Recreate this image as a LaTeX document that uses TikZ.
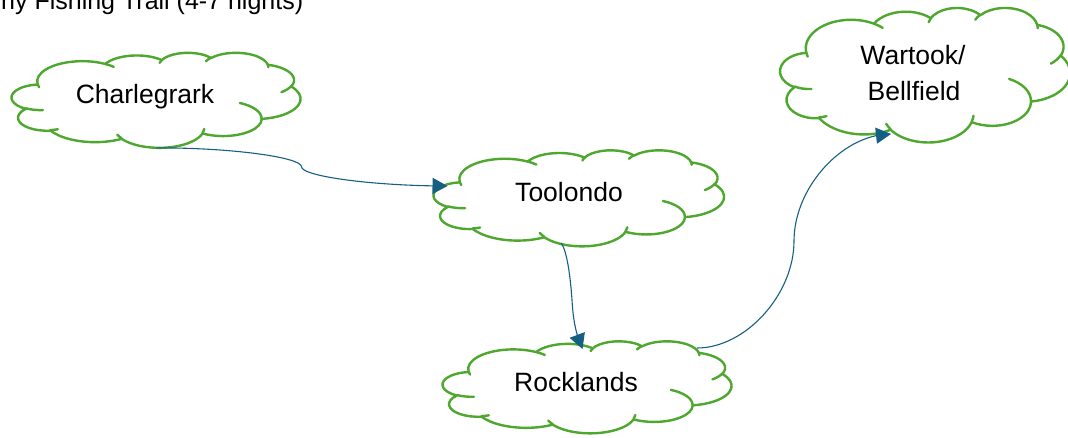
\documentclass[tikz,border=0pt]{standalone}
\usepackage{fontspec}
\setmainfont{Liberation Sans}
\usetikzlibrary{arrows.meta,bending,calc}
\definecolor{cloudgreen}{HTML}{4EA72E}
\definecolor{connblue}{HTML}{156082}
\tikzset{
  ooarc/.style n args={4}{insert path={arc[x radius=#1, y radius=#2,
      start angle={atan2((#1)*sin(#3),(#2)*cos(#3))},
      delta angle={mod(atan2((#1)*sin((#3)+(#4)),(#2)*cos((#3)+(#4)))-atan2((#1)*sin(#3),(#2)*cos(#3))+720,360)}]}},
  cloudline/.style={draw=cloudgreen, line width=2.4pt, line join=round, line cap=round},
  cloudbox/.style={rectangle, draw=none, inner sep=0pt, anchor=north west},
  lbl/.style={font=\fontsize{26.5}{37}\selectfont, inner sep=0pt, anchor=base, text=black},
  titletext/.style={font=\fontsize{25}{30}\selectfont, inner sep=0pt, anchor=base west, text=black},
  conn/.style={draw=connblue, line width=1.1pt, -{Triangle[length=15pt,width=16pt,flex=1]}},
  connstraight/.style={draw=connblue, line width=1.1pt, -{Triangle[length=15pt,width=16pt]}},
}
\newcommand\officecloud[5]{%
  \node[cloudbox, minimum width=#4pt, minimum height=#5pt] (#1) at (#2,#3) {};
  \pgfmathsetmacro\ocw{#4/432}\pgfmathsetmacro\och{#5/432}%
  \begin{scope}[shift={(#1.north west)}, x=\ocw pt, y=-\och pt]
    \path[cloudline, fill=white] (39.00,143.70)
      [ooarc={67.53}{91.90}{-190.48748}{123.78053}]
      [ooarc={53.33}{72.67}{-144.10238}{89.94523}]
      [ooarc={43.65}{59.45}{-145.80792}{99.72302}]
      [ooarc={48.57}{65.95}{-130.98607}{117.24173}]
      [ooarc={53.33}{72.73}{-78.70888}{109.02692}]
      [ooarc={67.75}{92.20}{-46.26725}{130.269}]
      [ooarc={57.85}{78.67}{0.62502}{114.03333}]
      [ooarc={67.52}{92.15}{22.4516}{115.17255}]
      [ooarc={77.20}{105.43}{66.24263}{75.22697}]
      [ooarc={43.60}{59.18}{-274.94208}{146.7394}]
      [ooarc={43.45}{59.45}{-246.8285}{152.51725}] -- cycle;
    \path[cloudline]
      (46.93,261.77) [ooarc={43.45}{59.45}{86.742}{26.4295}]
      (69.28,348.99) [ooarc={43.60}{59.18}{73.6105}{11.4475}]
      (164.78,390.90) [ooarc={67.52}{92.15}{137.6242}{14.0811}]
      (288.27,347.51) [ooarc={67.52}{92.15}{6.4533}{15.9984}]
      (341.29,229.54) [ooarc={57.85}{78.67}{-70.2924}{70.9174}]
      (417.98,153.54) [ooarc={53.33}{72.73}{30.318}{27.7515}]
      (383.24,54.26) [ooarc={48.57}{65.95}{-13.7443}{14.8589}]
      (290.78,39.52) [ooarc={48.57}{65.95}{-149.1815}{18.1954}]
      (221.41,47.20) [ooarc={43.65}{59.45}{-163.4943}{17.6864}]
      (140.00,51.92) [ooarc={67.53}{91.90}{-66.707}{12.3194}]
      (41.27,157.89) [ooarc={67.53}{91.90}{157.6544}{11.8582}];
  \end{scope}}
\begin{document}
\begin{tikzpicture}[x=1pt, y=-1pt]
\useasboundingbox (0,0) rectangle (1068,437);
\clip (0,0) rectangle (1068,437);
\fill[white] (0,0) rectangle (1068,437);

\node[titletext] (title) at (1,9) {ny Fishing Trail (4-7 nights)};

\officecloud{charl}{11.5}{52.5}{289}{95}
\officecloud{tool}{433.5}{150}{290.5}{96}
\officecloud{rock}{442.5}{341}{289}{92}
\officecloud{wart}{780}{7.5}{290}{134.5}

\node[lbl] (charl-t) at (145,103) {Charlegrark};
\node[lbl] (tool-t) at (569,201.5) {Toolondo};
\node[lbl] (rock-t) at (576,391) {Rocklands};
\node[lbl] (wart-t1) at (913,64) {Wartook/};
\node[lbl] (wart-t2) at (914,100.7) {Bellfield};

\coordinate (c1e) at ($(tool.north west)+(14,36)$);
\coordinate (c2s) at ($(tool.north west)+(127.5,93)$);
\coordinate (c2e) at ($(rock.north west)+(140,8)$);
\coordinate (c3s) at ($(rock.north west)+(254.5,7)$);
\coordinate (c3e) at ($(wart.north west)+(111,126.5)$);

\draw[conn] (charl.south) .. controls (228.75,147.5) and (301.5,157.1) .. (301.5,166.75)
  .. controls (301.5,176.4) and (374.25,186) .. (c1e);
\draw[connstraight] (c2s) .. controls (567,250) and (570.5,278) .. (572,300)
  .. controls (573,318) and (575.5,334) .. (c2e);
\draw[conn] (c3s) .. controls (745.5,348) and (794,294.5) .. (794,241)
  .. controls (794,187.5) and (842.5,134) .. (c3e);
\end{tikzpicture}
\end{document}
